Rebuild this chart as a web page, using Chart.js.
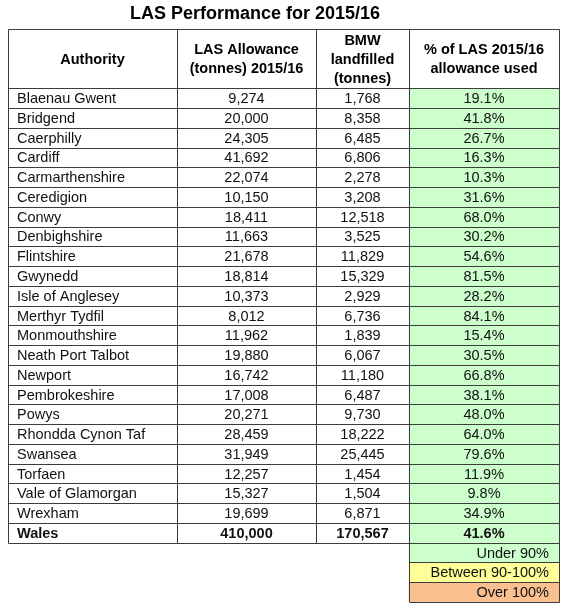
<!DOCTYPE html>
<html>
<head>
<meta charset="utf-8">
<script src="https://cdn.jsdelivr.net/npm/chart.js@4/dist/chart.umd.min.js"></script>
<style>
  html, body { margin: 0; padding: 0; background: #ffffff; }
  #wrap { width: 583px; height: 616px; position: relative; }
</style>
</head>
<body>
<div id="wrap"><canvas id="las-table"></canvas></div>
<script>
const authorities = ['Blaenau Gwent', 'Bridgend', 'Caerphilly', 'Cardiff', 'Carmarthenshire', 'Ceredigion',
    'Conwy', 'Denbighshire', 'Flintshire', 'Gwynedd', 'Isle of Anglesey', 'Merthyr Tydfil', 'Monmouthshire',
    'Neath Port Talbot', 'Newport', 'Pembrokeshire', 'Powys', 'Rhondda Cynon Taf', 'Swansea', 'Torfaen',
    'Vale of Glamorgan', 'Wrexham'];
const allowance = [9274, 20000, 24305, 41692, 22074, 10150, 18411, 11663, 21678, 18814, 10373, 8012, 11962,
    19880, 16742, 17008, 20271, 28459, 31949, 12257, 15327, 19699];
const landfilled = [1768, 8358, 6485, 6806, 2278, 3208, 12518, 3525, 11829, 15329, 2929, 6736, 1839,
    6067, 11180, 6487, 9730, 18222, 25445, 1454, 1504, 6871];
const pctUsed = [19.1, 41.8, 26.7, 16.3, 10.3, 31.6, 68.0, 30.2, 54.6, 81.5, 28.2, 84.1, 15.4,
    30.5, 66.8, 38.1, 48.0, 64.0, 79.6, 11.9, 9.8, 34.9];
const totalName = 'Wales';
const totalAllowance = 410000;
const totalLandfilled = 170567;
const totalPct = 41.6;
const bandLabels = ['Under 90%', 'Between 90-100%', 'Over 100%'];
const bandColors = ['#ccffcc', '#ffff99', '#fac090'];
const headers = [['Authority'], ['LAS Allowance', '(tonnes) 2015/16'], ['BMW', 'landfilled', '(tonnes)'],
    ['% of LAS 2015/16', 'allowance used']];
const title = 'LAS Performance for 2015/16';

// layout: column edges in x-scale units, header spans 3 row slots
const colEdges = [0, 169, 308, 401, 551];
const headerSlots = 3;
const lineColor = '#3c3c3c';
const font = '"Liberation Sans", Arial, sans-serif';

function bandIndex(p) {
    if (p < 90) return 0;
    if (p <= 100) return 1;
    return 2;
}

const rowNames = [...authorities, totalName];
const rowPct = [...pctUsed, totalPct];
const labels = [];
for (let i = 0; i < headerSlots; i++) labels.push('header' + i);
labels.push(...rowNames, ...bandLabels);

const fillData = [];
const fillColors = [];
for (let i = 0; i < headerSlots; i++) { fillData.push(null); fillColors.push('#ffffff'); }
rowPct.forEach(p => { fillData.push([colEdges[3], colEdges[4]]); fillColors.push(bandColors[bandIndex(p)]); });
bandLabels.forEach((b, i) => { fillData.push([colEdges[3], colEdges[4]]); fillColors.push(bandColors[i]); });

const fmt = n => n.toLocaleString('en-GB');

const tablePlugin = {
    id: 'tableText',
    afterDatasetsDraw(chart) {
        const ctx = chart.ctx;
        const x = chart.scales.x;
        const y = chart.scales.y;
        const xs = colEdges.map(v => x.getPixelForValue(v));
        const rowH = y.getPixelForValue(1) - y.getPixelForValue(0);
        const top = y.getPixelForValue(0) - rowH / 2;
        const edgeY = k => Math.round(top + k * rowH) + 0.5;
        const nRows = rowNames.length;
        const tableBottom = edgeY(headerSlots + nRows);
        const px = v => Math.round(v) + 0.5;

        ctx.save();
        ctx.fillStyle = '#000';
        ctx.textAlign = 'center';
        ctx.textBaseline = 'middle';
        ctx.font = 'bold 18px ' + font;
        ctx.fillText(title, 255, 14);

        // lines
        ctx.strokeStyle = lineColor;
        ctx.lineWidth = 1;
        ctx.beginPath();
        ctx.moveTo(px(xs[0]), edgeY(0));
        ctx.lineTo(px(xs[4]), edgeY(0));
        for (let k = headerSlots; k <= headerSlots + nRows; k++) {
            ctx.moveTo(px(xs[0]), edgeY(k));
            ctx.lineTo(px(xs[4]), edgeY(k));
        }
        for (let k = headerSlots + nRows + 1; k <= headerSlots + nRows + bandLabels.length; k++) {
            ctx.moveTo(px(xs[3]), edgeY(k));
            ctx.lineTo(px(xs[4]), edgeY(k));
        }
        xs.forEach((cx, c) => {
            ctx.moveTo(px(cx), edgeY(0));
            const bottom = (c >= 3) ? edgeY(headerSlots + nRows + bandLabels.length) : tableBottom;
            ctx.lineTo(px(cx), bottom);
        });
        ctx.stroke();

        // header
        ctx.font = 'bold 14.5px ' + font;
        const headMid = top + headerSlots * rowH / 2 + 1;
        headers.forEach((lines, c) => {
            const cx = (xs[c] + xs[c + 1]) / 2;
            const lh = 19;
            lines.forEach((t, j) => {
                ctx.fillText(t, cx, headMid + (j - (lines.length - 1) / 2) * lh);
            });
        });

        // body rows
        rowNames.forEach((name, i) => {
            const cy = y.getPixelForValue(headerSlots + i) + 1;
            const isTotal = i === rowNames.length - 1;
            ctx.font = (isTotal ? 'bold ' : '') + '14.5px ' + font;
            ctx.fillStyle = '#111';
            ctx.textAlign = 'left';
            ctx.fillText(name, xs[0] + 9, cy);
            ctx.textAlign = 'center';
            const a = isTotal ? totalAllowance : allowance[i];
            const l = isTotal ? totalLandfilled : landfilled[i];
            ctx.fillText(fmt(a), (xs[1] + xs[2]) / 2, cy);
            ctx.fillText(fmt(l), (xs[2] + xs[3]) / 2, cy);
            ctx.fillText(rowPct[i].toFixed(1) + '%', (xs[3] + xs[4]) / 2, cy);
        });

        // band key
        ctx.font = '14.5px ' + font;
        ctx.textAlign = 'right';
        bandLabels.forEach((b, i) => {
            const cy = y.getPixelForValue(headerSlots + nRows + i) + 1;
            ctx.fillText(b, xs[4] - 10, cy);
        });
        ctx.restore();
    }
};

new Chart(document.getElementById('las-table'), {
    type: 'bar',
    data: {
        labels: labels,
        datasets: [{
            data: fillData,
            backgroundColor: fillColors,
            borderWidth: 0,
            barPercentage: 1,
            categoryPercentage: 1
        }]
    },
    options: {
        indexAxis: 'y',
        responsive: true,
        maintainAspectRatio: false,
        animation: false,
        layout: { padding: { top: 29, left: 8, right: 24, bottom: 14 } },
        scales: {
            x: { type: 'linear', min: colEdges[0], max: colEdges[4], display: false },
            y: { type: 'category', display: false, offset: true }
        },
        plugins: {
            legend: { display: false },
            tooltip: { enabled: false },
            title: { display: false }
        }
    },
    plugins: [tablePlugin]
});
</script>
</body>
</html>
